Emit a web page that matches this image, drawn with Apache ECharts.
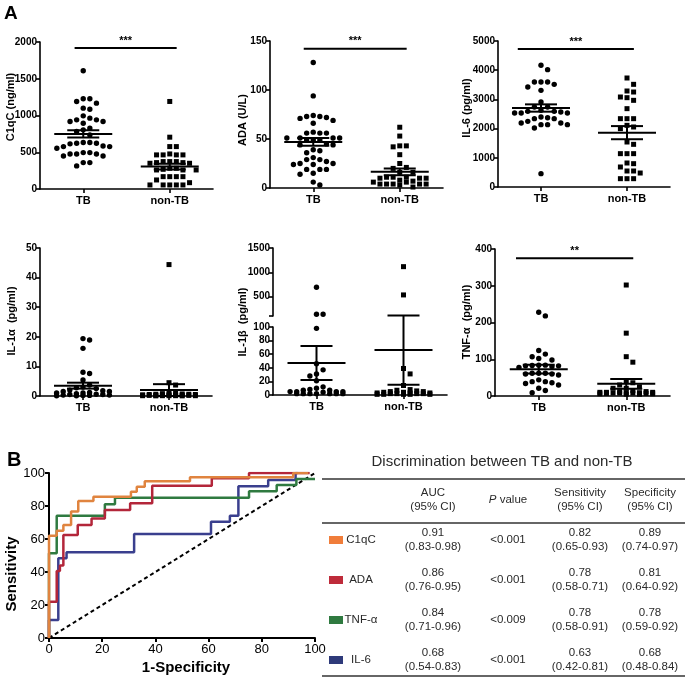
<!DOCTYPE html>
<html>
<head>
<meta charset="utf-8">
<script src="https://cdn.jsdelivr.net/npm/echarts@6.0.0/dist/echarts.min.js"></script>
<style>
  html, body { margin: 0; padding: 0; background: #fff; }
  #main { width: 689px; height: 683px; }
</style>
</head>
<body>
<div id="main"></div>
<script>
// ---- data ----
var groups = ['TB', 'non-TB'];

var c1qcTB = [1609, 1227, 1227, 1191, 1168, 1100, 1086, 995, 964, 941, 941, 918, 918, 895, 827, 805, 782, 736, 632, 632, 623, 623, 614, 586, 577, 577, 555, 495, 495, 477, 477, 477, 450, 450, 359, 359, 314];
var c1qcNon = [1191, 705, 577, 577, 477, 464, 464, 464, 464, 373, 373, 373, 359, 359, 350, 350, 282, 282, 268, 259, 259, 259, 168, 168, 168, 168, 123, 86, 55, 55, 55, 55, 55];
var c1qcStats = [[750, 50], [305, 38]]; // mean, SEM

var adaTB = [128, 94, 74, 73, 73, 72, 71, 69, 66, 57, 56, 56, 56, 51, 51, 51, 51, 49, 49, 49, 45, 44, 44, 39, 38, 36, 31, 29, 29, 27, 25, 25, 24, 24, 19, 19, 19, 15, 14, 6, 3];
var adaNon = [62, 53, 43, 43, 42, 34, 25, 21, 20, 16, 16, 11, 11, 11, 10, 10, 10, 8, 7, 6, 6, 4, 4, 4, 4, 4, 3, 1];
var adaStats = [[47, 4], [16.5, 3.5]];

var il6TB = [4167, 4018, 3596, 3596, 3596, 3516, 3425, 3310, 2911, 2740, 2740, 2626, 2591, 2591, 2568, 2534, 2534, 2534, 2397, 2374, 2340, 2340, 2249, 2192, 2192, 2135, 2135, 2135, 2021, 457];
var il6Non = [3733, 3516, 3288, 3253, 3082, 3059, 2968, 2683, 2340, 2340, 2340, 2112, 2055, 1998, 1541, 1461, 1142, 1142, 1142, 822, 799, 685, 548, 548, 479, 285, 285, 285];
var il6Stats = [[2705, 125], [1861, 225]];

var il1aTB = [19.4, 18.9, 16.1, 8.0, 7.6, 5.4, 3.7, 3.0, 2.8, 2.5, 2.0, 1.8, 1.5, 1.5, 1.2, 1.0, 1.0, 0.8, 0.6, 0.5, 0.5, 0.3, 0.3, 0.2, 0.2, 0.1, 0.1];
var il1aNon = [44.4, 4.5, 3.7, 1.0, 0.9, 0.8, 0.7, 0.6, 0.6, 0.5, 0.5, 0.4, 0.4, 0.3, 0.3, 0.3, 0.2, 0.2, 0.2, 0.1, 0.1, 0.1, 0.1, 0.1, 0.05, 0.05];
var il1aStats = [[3.5, 1.0], [2.0, 2.0]];

var il1bTB = [692, 137, 137, 98, 46, 37, 31, 28, 21, 12, 10, 8, 7, 7, 5, 5, 5, 5, 4, 2, 2, 2, 2, 2, 2, 2];
var il1bNon = [1116, 534, 39, 31, 14, 8, 7, 6, 5, 5, 4, 4, 3, 3, 3, 2, 2, 2, 2, 1, 1, 1, 1, 1];
var il1bStats = [[47, 25], [66, 51]];

var tnfTB = [228, 218, 124, 114, 107, 102, 98, 84, 84, 83, 82, 82, 80, 78, 62, 62, 62, 60, 60, 57, 44, 39, 39, 36, 34, 30, 21, 15, 9];
var tnfNon = [302, 171, 107, 92, 39, 36, 30, 25, 21, 21, 15, 12, 12, 10, 10, 10, 9, 9, 8, 8, 8, 7, 7, 6, 6, 5, 5];
var tnfStats = [[73, 12], [33, 13]];

// significance bars: y value, label
var sigY = [1918, 142, 4726, null, null, 375];
var sigText = ['***', '***', '***', '', '', '**'];

// ROC step curves, [1-specificity, sensitivity]
var rocC1qC = [[0, 0], [0, 62], [2.9, 65], [5.4, 68.5], [8.3, 76.6], [11, 83], [16.7, 85.6], [30.8, 88.7], [33, 91.7], [36, 95], [53, 97.5], [91.8, 100], [97.5, 100]];
var rocADA = [[0, 0], [0, 22], [2.9, 40.6], [4.1, 44], [5.4, 62.4], [10.8, 68.5], [16, 72.5], [21, 77.6], [30.5, 81.6], [38.8, 92.3], [61.2, 96.8], [75.2, 100], [98, 100]];
var rocTNF = [[0, 0], [0, 51.3], [2.9, 74.1], [21, 81], [24.8, 85], [75.2, 89], [85.6, 92.7], [93, 96.4], [100, 96.4]];
var rocIL6 = [[0, 0], [0, 10.9], [3.5, 48.3], [6.6, 52], [32, 63], [60.9, 70.5], [68, 74.1], [71.2, 92], [82.4, 95.8], [92.7, 100], [93.5, 100]];
var chanceLine = [[0, 0], [100, 100]];

// table
var tMarkers = ['C1qC', 'ADA', 'TNF-α', 'IL-6'];
var tAuc = ['0.91', '0.86', '0.84', '0.68'];
var tAucCI = ['(0.83-0.98)', '(0.76-0.95)', '(0.71-0.96)', '(0.54-0.83)'];
var tP = ['<0.001', '<0.001', '<0.009', '<0.001'];
var tSens = ['0.82', '0.78', '0.78', '0.63'];
var tSensCI = ['(0.65-0.93)', '(0.58-0.71)', '(0.58-0.91)', '(0.42-0.81)'];
var tSpec = ['0.89', '0.81', '0.78', '0.68'];
var tSpecCI = ['(0.74-0.97)', '(0.64-0.92)', '(0.59-0.92)', '(0.48-0.84)'];

var markerColors = ['#F07D3A', '#BE2B3A', '#2F7A40', '#2E3A7A'];
var rocColors = ['#E0843F', '#B3263A', '#2F7A40', '#3A3F8E'];

// ---- layout ----
var FONT = "'Liberation Sans', Arial, sans-serif";
var BOLD = "'Liberation Sans Narrow', 'Liberation Sans', Arial, sans-serif";
function plain(v) { return String(v); }

var panels = [
  { tb: c1qcTB, non: c1qcNon, stats: c1qcStats, name: 'C1qC (ng/ml)', left: 40, top: 42, width: 173, height: 147, min: 0, max: 2000, step: 500, nx: 11, ny: 107, f0: -0.1, f1: 1.08 },
  { tb: adaTB, non: adaNon, stats: adaStats, name: 'ADA (U/L)', left: 270, top: 41, width: 173, height: 147, min: 0, max: 150, step: 50, nx: 243, ny: 120, f0: -0.11, f1: 1.08 },
  { tb: il6TB, non: il6Non, stats: il6Stats, name: 'IL-6 (pg/ml)', left: 498, top: 41, width: 172, height: 146, min: 0, max: 5000, step: 1000, nx: 467, ny: 108, f0: -0.27, f1: 1.08 },
  { tb: il1aTB, non: il1aNon, stats: il1aStats, name: 'IL-1α  (pg/ml)', left: 40, top: 248, width: 172, height: 148, min: 0, max: 50, step: 10, nx: 12, ny: 321 },
  { tb: il1bTB, non: il1bNon, stats: il1bStats, name: 'IL-1β  (pg/ml)', left: 273, top: 327, width: 174, height: 68, min: 0, max: 100, step: 20, nx: 243, ny: 322,
    upper: { top: 248, height: 68, min: 100, max: 1500, gap: 11 } },
  { tb: tnfTB, non: tnfNon, stats: tnfStats, name: 'TNF-α  (pg/ml)', left: 495, top: 249, width: 175, height: 147, min: 0, max: 400, step: 100, nx: 467, ny: 322, f0: -0.26, f1: 1.08 }
];

// pixel height above the axis bottom for a value (used only for the dot spreading)
function pxUp(p, v) {
  if (p.upper && v > p.max) {
    var u = p.upper;
    return p.height + u.gap + (v - u.min) / (u.max - u.min) * u.height;
  }
  return (v - p.min) / (p.max - p.min) * p.height;
}

// simple beeswarm: offset each dot sideways until it no longer overlaps
function swarm(p, vals, gap, maxOff) {
  var ys = vals.map(function (v) { return pxUp(p, v); });
  var order = ys.map(function (y, i) { return i; }).sort(function (a, b) { return ys[b] - ys[a]; });
  var placed = [], dx = [];
  var nSteps = Math.floor(maxOff / gap);
  order.forEach(function (i) {
    var best = 0, bestD = -1;
    for (var k = 0; k <= nSteps * 2; k++) {
      var off = (k % 2 ? 1 : -1) * Math.ceil(k / 2) * gap;
      var dmin = Infinity;
      placed.forEach(function (q) {
        var d = Math.sqrt((q[0] - off) * (q[0] - off) + (q[1] - ys[i]) * (q[1] - ys[i]));
        if (d < dmin) dmin = d;
      });
      if (dmin >= gap) { best = off; break; }
      if (dmin > bestD) { bestD = dmin; best = off; }
    }
    dx[i] = best;
    placed.push([best, ys[i]]);
  });
  return dx;
}

function dotRender(square) {
  return function (params, api) {
    var c = api.coord([api.value(0), api.value(1)]);
    var x = c[0] + api.value(2);
    if (square) {
      return { type: 'rect', shape: { x: x - 2.5, y: c[1] - 2.5, width: 5, height: 5 }, style: { fill: '#000' } };
    }
    return { type: 'circle', shape: { cx: x, cy: c[1], r: 2.7 }, style: { fill: '#000' } };
  };
}

function statsRender(params, api) {
  var m = api.coord([api.value(0), api.value(1)]);
  var hi = api.coord([api.value(0), api.value(1) + api.value(2)]);
  var lo = api.coord([api.value(0), Math.max(0, api.value(1) - api.value(2))]);
  var st = { stroke: '#000', lineWidth: 2 };
  return { type: 'group', children: [
    { type: 'line', shape: { x1: m[0] - 29, y1: m[1], x2: m[0] + 29, y2: m[1] }, style: st },
    { type: 'line', shape: { x1: m[0], y1: hi[1], x2: m[0], y2: lo[1] }, style: st },
    { type: 'line', shape: { x1: m[0] - 16, y1: hi[1], x2: m[0] + 16, y2: hi[1] }, style: st },
    { type: 'line', shape: { x1: m[0] - 16, y1: lo[1], x2: m[0] + 16, y2: lo[1] }, style: st }
  ] };
}

function sigRender(p) {
  return function (params, api) {
    var a = api.coord([0, api.value(0)]);
    var b = api.coord([1, api.value(0)]);
    var x1 = a[0] + p.f0 * (b[0] - a[0]);
    var x2 = a[0] + p.f1 * (b[0] - a[0]);
    return { type: 'group', children: [
      { type: 'line', shape: { x1: x1, y1: a[1], x2: x2, y2: a[1] }, style: { stroke: '#000', lineWidth: 2 } },
      { type: 'text', x: (x1 + x2) / 2, y: a[1] - 2, style: { text: api.value(1) === 2 ? '**' : '***', align: 'center', verticalAlign: 'bottom', font: 'bold 11px ' + BOLD, fill: '#000' } }
    ] };
  };
}

var grids = [], xAxes = [], yAxes = [], series = [], graphics = [];
var axisLineStyle = { color: '#000', width: 1.6 };

function addCatAxis(gi, show) {
  xAxes.push({
    type: 'category', gridIndex: gi, data: groups, show: show, boundaryGap: true,
    axisLine: { show: true, onZero: false, lineStyle: axisLineStyle },
    axisTick: { show: true, alignWithLabel: true, length: 4, lineStyle: axisLineStyle },
    axisLabel: { color: '#000', fontFamily: BOLD, fontWeight: 'bold', fontSize: 11, margin: 6 },
    splitLine: { show: false }
  });
}

function dotSeries(gi, data, square) {
  series.push({ type: 'custom', xAxisIndex: gi, yAxisIndex: gi, data: data, renderItem: dotRender(square), encode: { x: 0, y: 1 }, silent: true, z: 2 });
}

panels.forEach(function (p, idx) {
  var gi = grids.length;
  grids.push({ left: p.left, top: p.top, width: p.width, height: p.height, outerBoundsMode: 'none', containLabel: false });
  addCatAxis(gi, true);
  yAxes.push({
    type: 'value', gridIndex: gi, min: p.min, max: p.max, interval: p.step,
    axisLine: { show: true, onZero: false, lineStyle: axisLineStyle },
    axisTick: { show: true, length: 4, lineStyle: axisLineStyle },
    axisLabel: { color: '#000', fontFamily: BOLD, fontWeight: 'bold', fontSize: 10, margin: 3, formatter: plain },
    splitLine: { show: false }
  });

  var dxTB = swarm(p, p.tb, 6.6, 27);
  var dxNon = swarm(p, p.non, 6.6, 27);
  var lowTB = [], lowNon = [], upTB = [], upNon = [];
  p.tb.forEach(function (v, i) { (p.upper && v > p.max ? upTB : lowTB).push([0, v, dxTB[i]]); });
  p.non.forEach(function (v, i) { (p.upper && v > p.max ? upNon : lowNon).push([1, v, dxNon[i]]); });
  dotSeries(gi, lowTB, false);
  dotSeries(gi, lowNon, true);

  series.push({
    type: 'custom', xAxisIndex: gi, yAxisIndex: gi, renderItem: statsRender, encode: { x: 0, y: 1 }, silent: true, z: 3, clip: false,
    data: [[0, p.stats[0][0], p.stats[0][1]], [1, p.stats[1][0], p.stats[1][1]]]
  });

  if (sigY[idx] != null) {
    series.push({
      type: 'custom', xAxisIndex: gi, yAxisIndex: gi, renderItem: sigRender(p), silent: true, z: 3, clip: false,
      encode: { y: 0 }, data: [[sigY[idx], sigText[idx].length]]
    });
  }

  if (p.upper) {
    var ui = grids.length;
    var u = p.upper;
    grids.push({ left: p.left, top: u.top, width: p.width, height: u.height, outerBoundsMode: 'none', containLabel: false });
    addCatAxis(ui, false);
    yAxes.push({
      type: 'value', gridIndex: ui, min: u.min, max: u.max,
      axisLine: { show: true, onZero: false, lineStyle: axisLineStyle },
      axisTick: { show: true, length: 4, lineStyle: axisLineStyle, customValues: [100, 500, 1000, 1500] },
      axisLabel: { color: '#000', fontFamily: BOLD, fontWeight: 'bold', fontSize: 10, margin: 3, customValues: [500, 1000, 1500], formatter: plain },
      splitLine: { show: false }
    });
    dotSeries(ui, upTB, false);
    dotSeries(ui, upNon, true);
  }

  graphics.push({
    type: 'text', x: p.nx, y: p.ny, rotation: Math.PI / 2,
    style: { text: p.name, align: 'center', verticalAlign: 'middle', font: 'bold 11px ' + BOLD, fill: '#000' }
  });
});

// ROC panel
var rg = grids.length;
grids.push({ left: 49, top: 473, width: 266, height: 165, outerBoundsMode: 'none', containLabel: false });
var rocAxis = {
  type: 'value', gridIndex: rg, min: 0, max: 100, interval: 20,
  axisLine: { show: true, onZero: false, lineStyle: { color: '#000', width: 2 } },
  axisTick: { show: true, length: 4, lineStyle: { color: '#000', width: 2 } },
  axisLabel: { color: '#000', fontFamily: FONT, fontSize: 13, margin: 5 },
  splitLine: { show: false }
};
xAxes.push(Object.assign({}, rocAxis));
yAxes.push(Object.assign({}, rocAxis, { axisLabel: { color: '#000', fontFamily: FONT, fontSize: 13, margin: 4 } }));
var rocX = xAxes.length - 1, rocY = yAxes.length - 1;

series.push({
  type: 'line', xAxisIndex: rocX, yAxisIndex: rocY, data: chanceLine, symbol: 'none', silent: true, z: 2,
  lineStyle: { color: '#000', width: 2, type: [4, 3] }
});
[rocIL6, rocTNF, rocADA, rocC1qC].forEach(function (d, i) {
  var col = [rocColors[3], rocColors[2], rocColors[1], rocColors[0]][i];
  series.push({
    type: 'line', xAxisIndex: rocX, yAxisIndex: rocY, data: d, step: 'end', symbol: 'none', silent: true, z: 3 + i,
    lineStyle: { color: col, width: 2.5 }
  });
});

// panel letters and ROC axis titles
graphics.push({ type: 'text', x: 4, y: 4, style: { text: 'A', font: 'bold 19px ' + FONT, fill: '#000' } });
graphics.push({ type: 'text', x: 7, y: 450, style: { text: 'B', font: 'bold 20px ' + FONT, fill: '#000' } });
graphics.push({ type: 'text', x: 12, y: 574, rotation: Math.PI / 2, style: { text: 'Sensitivity', align: 'center', verticalAlign: 'middle', font: 'bold 15px ' + FONT, fill: '#000' } });
graphics.push({ type: 'text', x: 186, y: 668, style: { text: '1-Specificity', align: 'center', verticalAlign: 'middle', font: 'bold 15px ' + FONT, fill: '#000' } });

// table
var TC = '#2a2a2a';
var colX = [433, 508, 580, 650];
var rowY = [540, 580, 620, 660];
function tText(x, y, s, size) {
  graphics.push({ type: 'text', x: x, y: y, style: { text: s, align: 'center', verticalAlign: 'middle', font: (size || 11.5) + 'px ' + FONT, fill: TC, lineHeight: 14 } });
}
function rule(y) {
  graphics.push({ type: 'line', shape: { x1: 322, y1: y, x2: 685, y2: y }, style: { stroke: '#333', lineWidth: 1.3 } });
}
graphics.push({ type: 'text', x: 502, y: 462, style: { text: 'Discrimination between TB and non-TB', align: 'center', verticalAlign: 'middle', font: '15px ' + FONT, fill: TC } });
rule(479); rule(523); rule(676);
tText(colX[0], 500, 'AUC\n(95% CI)');
graphics.push({ type: 'text', x: colX[1], y: 500, style: {
  text: '{i|P} value', align: 'center', verticalAlign: 'middle', fontSize: 11.5, fontFamily: FONT, fill: TC,
  rich: { i: { fontStyle: 'italic', fontSize: 11.5, fontFamily: FONT, fill: TC } }
} });
tText(colX[2], 500, 'Sensitivity\n(95% CI)');
tText(colX[3], 500, 'Specificity\n(95% CI)');
tMarkers.forEach(function (m, i) {
  var y = rowY[i];
  graphics.push({ type: 'rect', shape: { x: 329, y: y - 4, width: 14, height: 8 }, style: { fill: markerColors[i] } });
  tText(361, y, m);
  tText(colX[0], y, tAuc[i] + '\n' + tAucCI[i]);
  tText(colX[1], y, tP[i]);
  tText(colX[2], y, tSens[i] + '\n' + tSensCI[i]);
  tText(colX[3], y, tSpec[i] + '\n' + tSpecCI[i]);
});

var chart = echarts.init(document.getElementById('main'), null, { renderer: 'canvas' });
chart.setOption({
  backgroundColor: '#fff',
  animation: false,
  grid: grids,
  xAxis: xAxes,
  yAxis: yAxes,
  series: series,
  graphic: graphics
});
</script>
</body>
</html>
